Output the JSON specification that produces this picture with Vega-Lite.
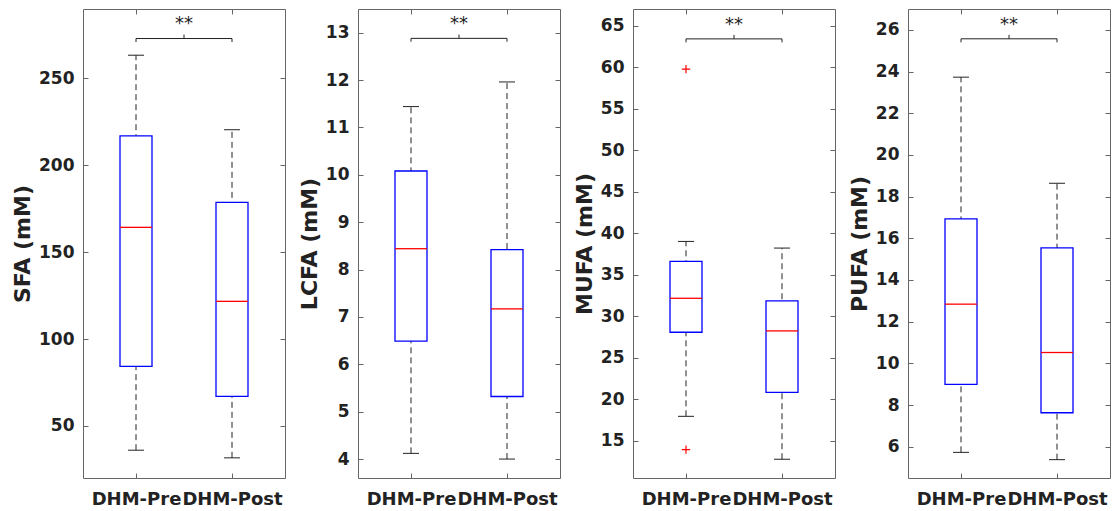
{
  "$schema": "https://vega.github.io/schema/vega-lite/v6.json",
  "padding": {"left": 11, "top": 8, "right": 0, "bottom": 0},
  "background": "white",
  "datasets": {
    "boxes": [
      {"var": "SFA", "group": "DHM-Pre", "pos": 1, "lo": 36, "q1": 84.3, "med": 164.3, "q3": 217, "hi": 263.4},
      {"var": "SFA", "group": "DHM-Post", "pos": 2, "lo": 31.6, "q1": 67, "med": 121.7, "q3": 178.7, "hi": 220.5},
      {"var": "LCFA", "group": "DHM-Pre", "pos": 1, "lo": 4.12, "q1": 6.49, "med": 8.44, "q3": 10.08, "hi": 11.44},
      {"var": "LCFA", "group": "DHM-Post", "pos": 2, "lo": 4.0, "q1": 5.32, "med": 7.17, "q3": 8.42, "hi": 11.96},
      {"var": "MUFA", "group": "DHM-Pre", "pos": 1, "lo": 17.93, "q1": 28.06, "med": 32.15, "q3": 36.6, "hi": 39.0},
      {"var": "MUFA", "group": "DHM-Post", "pos": 2, "lo": 12.76, "q1": 20.82, "med": 28.22, "q3": 31.83, "hi": 38.2},
      {"var": "PUFA", "group": "DHM-Pre", "pos": 1, "lo": 5.73, "q1": 8.99, "med": 12.84, "q3": 16.93, "hi": 23.73},
      {"var": "PUFA", "group": "DHM-Post", "pos": 2, "lo": 5.38, "q1": 7.63, "med": 10.52, "q3": 15.54, "hi": 18.64}
    ],
    "outliers": [
      {"var": "MUFA", "group": "DHM-Pre", "pos": 1, "value": 59.76},
      {"var": "MUFA", "group": "DHM-Pre", "pos": 1, "value": 13.92}
    ],
    "sig": [
      {"var": "SFA", "x1": 1, "x2": 2, "xm": 1.5, "yb": 273.0, "yd": 271.0, "yt": 275.3, "ys": 278.2, "label": "**"},
      {"var": "LCFA", "x1": 1, "x2": 2, "xm": 1.5, "yb": 12.88, "yd": 12.81, "yt": 12.96, "ys": 13.07, "label": "**"},
      {"var": "MUFA", "x1": 1, "x2": 2, "xm": 1.5, "yb": 63.4, "yd": 62.98, "yt": 63.88, "ys": 64.48, "label": "**"},
      {"var": "PUFA", "x1": 1, "x2": 2, "xm": 1.5, "yb": 25.57, "yd": 25.4, "yt": 25.76, "ys": 26.0, "label": "**"}
    ]
  },
  "spacing": 73,
  "bounds": "flush",
  "hconcat": [
    {
      "width": 202, "height": 469,
      "resolve": {"axis": {"x": "independent", "y": "independent"}},
      "layer": [
        {"data": {"name": "boxes"}, "transform": [{"filter": "datum.var == 'SFA'"}],
         "mark": {"type": "rule", "strokeDash": [6, 4], "color": "#222", "strokeWidth": 1},
         "encoding": {
           "x": {"field": "pos", "type": "quantitative", "scale": {"domain": [0.5, 2.5], "nice": false, "zero": false},
                 "axis": {"orient": "bottom", "values": [1, 2], "labelExpr": "datum.value == 1 ? 'DHM-Pre' : 'DHM-Post'", "title": null, "labelFontSize": 18, "labelPadding": 17, "labelOverlap": false, "labelFlush": false}},
           "y": {"field": "lo", "type": "quantitative", "scale": {"domain": [20, 290], "nice": false, "zero": false},
                 "axis": {"orient": "left", "values": [50, 100, 150, 200, 250], "title": "SFA (mM)", "labelPadding": 14, "titlePadding": 4, "labelFlush": false}},
           "y2": {"field": "hi"}
         }},
        {"data": {"name": "boxes"}, "transform": [{"filter": "datum.var == 'SFA'"}],
         "mark": {"type": "bar", "orient": "vertical", "size": 32, "fill": "white", "stroke": "#0000FF", "strokeWidth": 1.3},
         "encoding": {"x": {"field": "pos", "type": "quantitative", "axis": null}, "y": {"field": "q1", "type": "quantitative", "axis": null}, "y2": {"field": "q3"}}},
        {"data": {"name": "boxes"}, "transform": [{"filter": "datum.var == 'SFA'"}],
         "mark": {"type": "tick", "orient": "horizontal", "size": 32, "thickness": 1.3, "color": "#FF0000", "opacity": 1},
         "encoding": {"x": {"field": "pos", "type": "quantitative", "axis": null}, "y": {"field": "med", "type": "quantitative", "axis": null}}},
        {"data": {"name": "boxes"}, "transform": [{"filter": "datum.var == 'SFA'"}],
         "mark": {"type": "tick", "orient": "horizontal", "size": 16, "thickness": 1, "color": "#222", "opacity": 1},
         "encoding": {"x": {"field": "pos", "type": "quantitative", "axis": null}, "y": {"field": "lo", "type": "quantitative", "axis": null}}},
        {"data": {"name": "boxes"}, "transform": [{"filter": "datum.var == 'SFA'"}],
         "mark": {"type": "tick", "orient": "horizontal", "size": 16, "thickness": 1, "color": "#222", "opacity": 1},
         "encoding": {"x": {"field": "pos", "type": "quantitative", "axis": null}, "y": {"field": "hi", "type": "quantitative", "axis": null}}},
        {"data": {"name": "sig"}, "transform": [{"filter": "datum.var == 'SFA'"}],
         "mark": {"type": "rule", "color": "#222", "strokeWidth": 1},
         "encoding": {
           "x": {"field": "x1", "type": "quantitative", "axis": {"orient": "top", "values": [1, 2], "labels": false, "title": null}},
           "x2": {"field": "x2"},
           "y": {"field": "yb", "type": "quantitative", "axis": {"orient": "right", "values": [50, 100, 150, 200, 250], "labels": false, "title": null}}
         }},
        {"data": {"name": "sig"}, "transform": [{"filter": "datum.var == 'SFA'"}],
         "mark": {"type": "rule", "color": "#222", "strokeWidth": 1},
         "encoding": {"x": {"field": "x1", "type": "quantitative", "axis": null}, "y": {"field": "yd", "type": "quantitative", "axis": null}, "y2": {"field": "yb"}}},
        {"data": {"name": "sig"}, "transform": [{"filter": "datum.var == 'SFA'"}],
         "mark": {"type": "rule", "color": "#222", "strokeWidth": 1},
         "encoding": {"x": {"field": "x2", "type": "quantitative", "axis": null}, "y": {"field": "yd", "type": "quantitative", "axis": null}, "y2": {"field": "yb"}}},
        {"data": {"name": "sig"}, "transform": [{"filter": "datum.var == 'SFA'"}],
         "mark": {"type": "rule", "color": "#222", "strokeWidth": 1},
         "encoding": {"x": {"field": "xm", "type": "quantitative", "axis": null}, "y": {"field": "yb", "type": "quantitative", "axis": null}, "y2": {"field": "yt"}}},
        {"data": {"name": "sig"}, "transform": [{"filter": "datum.var == 'SFA'"}],
         "mark": {"type": "text", "fontSize": 18, "font": "DejaVu Sans", "baseline": "alphabetic", "align": "center", "color": "#222"},
         "encoding": {"x": {"field": "xm", "type": "quantitative", "axis": null}, "y": {"field": "ys", "type": "quantitative", "axis": null}, "text": {"field": "label"}}}
      ]
    },
    {
      "width": 202, "height": 469,
      "resolve": {"axis": {"x": "independent", "y": "independent"}},
      "layer": [
        {"data": {"name": "boxes"}, "transform": [{"filter": "datum.var == 'LCFA'"}],
         "mark": {"type": "rule", "strokeDash": [6, 4], "color": "#222", "strokeWidth": 1},
         "encoding": {
           "x": {"field": "pos", "type": "quantitative", "scale": {"domain": [0.5, 2.5], "nice": false, "zero": false},
                 "axis": {"orient": "bottom", "values": [1, 2], "labelExpr": "datum.value == 1 ? 'DHM-Pre' : 'DHM-Post'", "title": null, "labelFontSize": 18, "labelPadding": 17, "labelOverlap": false, "labelFlush": false}},
           "y": {"field": "lo", "type": "quantitative", "scale": {"domain": [3.6, 13.5], "nice": false, "zero": false},
                 "axis": {"orient": "left", "values": [4, 5, 6, 7, 8, 9, 10, 11, 12, 13], "title": "LCFA (mM)", "labelPadding": 14, "titlePadding": 4, "labelFlush": false}},
           "y2": {"field": "hi"}
         }},
        {"data": {"name": "boxes"}, "transform": [{"filter": "datum.var == 'LCFA'"}],
         "mark": {"type": "bar", "orient": "vertical", "size": 32, "fill": "white", "stroke": "#0000FF", "strokeWidth": 1.3},
         "encoding": {"x": {"field": "pos", "type": "quantitative", "axis": null}, "y": {"field": "q1", "type": "quantitative", "axis": null}, "y2": {"field": "q3"}}},
        {"data": {"name": "boxes"}, "transform": [{"filter": "datum.var == 'LCFA'"}],
         "mark": {"type": "tick", "orient": "horizontal", "size": 32, "thickness": 1.3, "color": "#FF0000", "opacity": 1},
         "encoding": {"x": {"field": "pos", "type": "quantitative", "axis": null}, "y": {"field": "med", "type": "quantitative", "axis": null}}},
        {"data": {"name": "boxes"}, "transform": [{"filter": "datum.var == 'LCFA'"}],
         "mark": {"type": "tick", "orient": "horizontal", "size": 16, "thickness": 1, "color": "#222", "opacity": 1},
         "encoding": {"x": {"field": "pos", "type": "quantitative", "axis": null}, "y": {"field": "lo", "type": "quantitative", "axis": null}}},
        {"data": {"name": "boxes"}, "transform": [{"filter": "datum.var == 'LCFA'"}],
         "mark": {"type": "tick", "orient": "horizontal", "size": 16, "thickness": 1, "color": "#222", "opacity": 1},
         "encoding": {"x": {"field": "pos", "type": "quantitative", "axis": null}, "y": {"field": "hi", "type": "quantitative", "axis": null}}},
        {"data": {"name": "sig"}, "transform": [{"filter": "datum.var == 'LCFA'"}],
         "mark": {"type": "rule", "color": "#222", "strokeWidth": 1},
         "encoding": {
           "x": {"field": "x1", "type": "quantitative", "axis": {"orient": "top", "values": [1, 2], "labels": false, "title": null}},
           "x2": {"field": "x2"},
           "y": {"field": "yb", "type": "quantitative", "axis": {"orient": "right", "values": [4, 5, 6, 7, 8, 9, 10, 11, 12, 13], "labels": false, "title": null}}
         }},
        {"data": {"name": "sig"}, "transform": [{"filter": "datum.var == 'LCFA'"}],
         "mark": {"type": "rule", "color": "#222", "strokeWidth": 1},
         "encoding": {"x": {"field": "x1", "type": "quantitative", "axis": null}, "y": {"field": "yd", "type": "quantitative", "axis": null}, "y2": {"field": "yb"}}},
        {"data": {"name": "sig"}, "transform": [{"filter": "datum.var == 'LCFA'"}],
         "mark": {"type": "rule", "color": "#222", "strokeWidth": 1},
         "encoding": {"x": {"field": "x2", "type": "quantitative", "axis": null}, "y": {"field": "yd", "type": "quantitative", "axis": null}, "y2": {"field": "yb"}}},
        {"data": {"name": "sig"}, "transform": [{"filter": "datum.var == 'LCFA'"}],
         "mark": {"type": "rule", "color": "#222", "strokeWidth": 1},
         "encoding": {"x": {"field": "xm", "type": "quantitative", "axis": null}, "y": {"field": "yb", "type": "quantitative", "axis": null}, "y2": {"field": "yt"}}},
        {"data": {"name": "sig"}, "transform": [{"filter": "datum.var == 'LCFA'"}],
         "mark": {"type": "text", "fontSize": 18, "font": "DejaVu Sans", "baseline": "alphabetic", "align": "center", "color": "#222"},
         "encoding": {"x": {"field": "xm", "type": "quantitative", "axis": null}, "y": {"field": "ys", "type": "quantitative", "axis": null}, "text": {"field": "label"}}}
      ]
    },
    {
      "width": 202, "height": 469,
      "resolve": {"axis": {"x": "independent", "y": "independent"}},
      "layer": [
        {"data": {"name": "boxes"}, "transform": [{"filter": "datum.var == 'MUFA'"}],
         "mark": {"type": "rule", "strokeDash": [6, 4], "color": "#222", "strokeWidth": 1},
         "encoding": {
           "x": {"field": "pos", "type": "quantitative", "scale": {"domain": [0.5, 2.5], "nice": false, "zero": false},
                 "axis": {"orient": "bottom", "values": [1, 2], "labelExpr": "datum.value == 1 ? 'DHM-Pre' : 'DHM-Post'", "title": null, "labelFontSize": 18, "labelPadding": 17, "labelOverlap": false, "labelFlush": false}},
           "y": {"field": "lo", "type": "quantitative", "scale": {"domain": [10.5, 67], "nice": false, "zero": false},
                 "axis": {"orient": "left", "values": [15, 20, 25, 30, 35, 40, 45, 50, 55, 60, 65], "title": "MUFA (mM)", "labelPadding": 14, "titlePadding": 4, "labelFlush": false}},
           "y2": {"field": "hi"}
         }},
        {"data": {"name": "boxes"}, "transform": [{"filter": "datum.var == 'MUFA'"}],
         "mark": {"type": "bar", "orient": "vertical", "size": 32, "fill": "white", "stroke": "#0000FF", "strokeWidth": 1.3},
         "encoding": {"x": {"field": "pos", "type": "quantitative", "axis": null}, "y": {"field": "q1", "type": "quantitative", "axis": null}, "y2": {"field": "q3"}}},
        {"data": {"name": "boxes"}, "transform": [{"filter": "datum.var == 'MUFA'"}],
         "mark": {"type": "tick", "orient": "horizontal", "size": 32, "thickness": 1.3, "color": "#FF0000", "opacity": 1},
         "encoding": {"x": {"field": "pos", "type": "quantitative", "axis": null}, "y": {"field": "med", "type": "quantitative", "axis": null}}},
        {"data": {"name": "boxes"}, "transform": [{"filter": "datum.var == 'MUFA'"}],
         "mark": {"type": "tick", "orient": "horizontal", "size": 16, "thickness": 1, "color": "#222", "opacity": 1},
         "encoding": {"x": {"field": "pos", "type": "quantitative", "axis": null}, "y": {"field": "lo", "type": "quantitative", "axis": null}}},
        {"data": {"name": "boxes"}, "transform": [{"filter": "datum.var == 'MUFA'"}],
         "mark": {"type": "tick", "orient": "horizontal", "size": 16, "thickness": 1, "color": "#222", "opacity": 1},
         "encoding": {"x": {"field": "pos", "type": "quantitative", "axis": null}, "y": {"field": "hi", "type": "quantitative", "axis": null}}},
        {"data": {"name": "outliers"}, "transform": [{"filter": "datum.var == 'MUFA'"}],
         "mark": {"type": "point", "shape": "M-1,0L1,0M0,-1L0,1", "filled": false, "stroke": "#FF0000", "strokeWidth": 1.2, "size": 70, "opacity": 1},
         "encoding": {"x": {"field": "pos", "type": "quantitative", "axis": null}, "y": {"field": "value", "type": "quantitative", "axis": null}}},
        {"data": {"name": "sig"}, "transform": [{"filter": "datum.var == 'MUFA'"}],
         "mark": {"type": "rule", "color": "#222", "strokeWidth": 1},
         "encoding": {
           "x": {"field": "x1", "type": "quantitative", "axis": {"orient": "top", "values": [1, 2], "labels": false, "title": null}},
           "x2": {"field": "x2"},
           "y": {"field": "yb", "type": "quantitative", "axis": {"orient": "right", "values": [15, 20, 25, 30, 35, 40, 45, 50, 55, 60, 65], "labels": false, "title": null}}
         }},
        {"data": {"name": "sig"}, "transform": [{"filter": "datum.var == 'MUFA'"}],
         "mark": {"type": "rule", "color": "#222", "strokeWidth": 1},
         "encoding": {"x": {"field": "x1", "type": "quantitative", "axis": null}, "y": {"field": "yd", "type": "quantitative", "axis": null}, "y2": {"field": "yb"}}},
        {"data": {"name": "sig"}, "transform": [{"filter": "datum.var == 'MUFA'"}],
         "mark": {"type": "rule", "color": "#222", "strokeWidth": 1},
         "encoding": {"x": {"field": "x2", "type": "quantitative", "axis": null}, "y": {"field": "yd", "type": "quantitative", "axis": null}, "y2": {"field": "yb"}}},
        {"data": {"name": "sig"}, "transform": [{"filter": "datum.var == 'MUFA'"}],
         "mark": {"type": "rule", "color": "#222", "strokeWidth": 1},
         "encoding": {"x": {"field": "xm", "type": "quantitative", "axis": null}, "y": {"field": "yb", "type": "quantitative", "axis": null}, "y2": {"field": "yt"}}},
        {"data": {"name": "sig"}, "transform": [{"filter": "datum.var == 'MUFA'"}],
         "mark": {"type": "text", "fontSize": 18, "font": "DejaVu Sans", "baseline": "alphabetic", "align": "center", "color": "#222"},
         "encoding": {"x": {"field": "xm", "type": "quantitative", "axis": null}, "y": {"field": "ys", "type": "quantitative", "axis": null}, "text": {"field": "label"}}}
      ]
    },
    {
      "width": 202, "height": 469,
      "resolve": {"axis": {"x": "independent", "y": "independent"}},
      "layer": [
        {"data": {"name": "boxes"}, "transform": [{"filter": "datum.var == 'PUFA'"}],
         "mark": {"type": "rule", "strokeDash": [6, 4], "color": "#222", "strokeWidth": 1},
         "encoding": {
           "x": {"field": "pos", "type": "quantitative", "scale": {"domain": [0.5, 2.5], "nice": false, "zero": false},
                 "axis": {"orient": "bottom", "values": [1, 2], "labelExpr": "datum.value == 1 ? 'DHM-Pre' : 'DHM-Post'", "title": null, "labelFontSize": 18, "labelPadding": 17, "labelOverlap": false, "labelFlush": false}},
           "y": {"field": "lo", "type": "quantitative", "scale": {"domain": [4.5, 27], "nice": false, "zero": false},
                 "axis": {"orient": "left", "values": [6, 8, 10, 12, 14, 16, 18, 20, 22, 24, 26], "title": "PUFA (mM)", "labelPadding": 14, "titlePadding": 4, "labelFlush": false}},
           "y2": {"field": "hi"}
         }},
        {"data": {"name": "boxes"}, "transform": [{"filter": "datum.var == 'PUFA'"}],
         "mark": {"type": "bar", "orient": "vertical", "size": 32, "fill": "white", "stroke": "#0000FF", "strokeWidth": 1.3},
         "encoding": {"x": {"field": "pos", "type": "quantitative", "axis": null}, "y": {"field": "q1", "type": "quantitative", "axis": null}, "y2": {"field": "q3"}}},
        {"data": {"name": "boxes"}, "transform": [{"filter": "datum.var == 'PUFA'"}],
         "mark": {"type": "tick", "orient": "horizontal", "size": 32, "thickness": 1.3, "color": "#FF0000", "opacity": 1},
         "encoding": {"x": {"field": "pos", "type": "quantitative", "axis": null}, "y": {"field": "med", "type": "quantitative", "axis": null}}},
        {"data": {"name": "boxes"}, "transform": [{"filter": "datum.var == 'PUFA'"}],
         "mark": {"type": "tick", "orient": "horizontal", "size": 16, "thickness": 1, "color": "#222", "opacity": 1},
         "encoding": {"x": {"field": "pos", "type": "quantitative", "axis": null}, "y": {"field": "lo", "type": "quantitative", "axis": null}}},
        {"data": {"name": "boxes"}, "transform": [{"filter": "datum.var == 'PUFA'"}],
         "mark": {"type": "tick", "orient": "horizontal", "size": 16, "thickness": 1, "color": "#222", "opacity": 1},
         "encoding": {"x": {"field": "pos", "type": "quantitative", "axis": null}, "y": {"field": "hi", "type": "quantitative", "axis": null}}},
        {"data": {"name": "sig"}, "transform": [{"filter": "datum.var == 'PUFA'"}],
         "mark": {"type": "rule", "color": "#222", "strokeWidth": 1},
         "encoding": {
           "x": {"field": "x1", "type": "quantitative", "axis": {"orient": "top", "values": [1, 2], "labels": false, "title": null}},
           "x2": {"field": "x2"},
           "y": {"field": "yb", "type": "quantitative", "axis": {"orient": "right", "values": [6, 8, 10, 12, 14, 16, 18, 20, 22, 24, 26], "labels": false, "title": null}}
         }},
        {"data": {"name": "sig"}, "transform": [{"filter": "datum.var == 'PUFA'"}],
         "mark": {"type": "rule", "color": "#222", "strokeWidth": 1},
         "encoding": {"x": {"field": "x1", "type": "quantitative", "axis": null}, "y": {"field": "yd", "type": "quantitative", "axis": null}, "y2": {"field": "yb"}}},
        {"data": {"name": "sig"}, "transform": [{"filter": "datum.var == 'PUFA'"}],
         "mark": {"type": "rule", "color": "#222", "strokeWidth": 1},
         "encoding": {"x": {"field": "x2", "type": "quantitative", "axis": null}, "y": {"field": "yd", "type": "quantitative", "axis": null}, "y2": {"field": "yb"}}},
        {"data": {"name": "sig"}, "transform": [{"filter": "datum.var == 'PUFA'"}],
         "mark": {"type": "rule", "color": "#222", "strokeWidth": 1},
         "encoding": {"x": {"field": "xm", "type": "quantitative", "axis": null}, "y": {"field": "yb", "type": "quantitative", "axis": null}, "y2": {"field": "yt"}}},
        {"data": {"name": "sig"}, "transform": [{"filter": "datum.var == 'PUFA'"}],
         "mark": {"type": "text", "fontSize": 18, "font": "DejaVu Sans", "baseline": "alphabetic", "align": "center", "color": "#222"},
         "encoding": {"x": {"field": "xm", "type": "quantitative", "axis": null}, "y": {"field": "ys", "type": "quantitative", "axis": null}, "text": {"field": "label"}}}
      ]
    }
  ],
  "config": {
    "view": {"stroke": "#666", "strokeWidth": 1},
    "font": "DejaVu Sans",
    "axis": {
      "labelFont": "DejaVu Sans", "labelFontWeight": "bold", "labelFontSize": 17, "labelColor": "#222",
      "tickColor": "#666", "tickSize": -5, "tickWidth": 1, "domain": false, "grid": false,
      "titleFont": "DejaVu Sans", "titleFontWeight": "bold", "titleFontSize": 22, "titleColor": "#222"
    }
  }
}
